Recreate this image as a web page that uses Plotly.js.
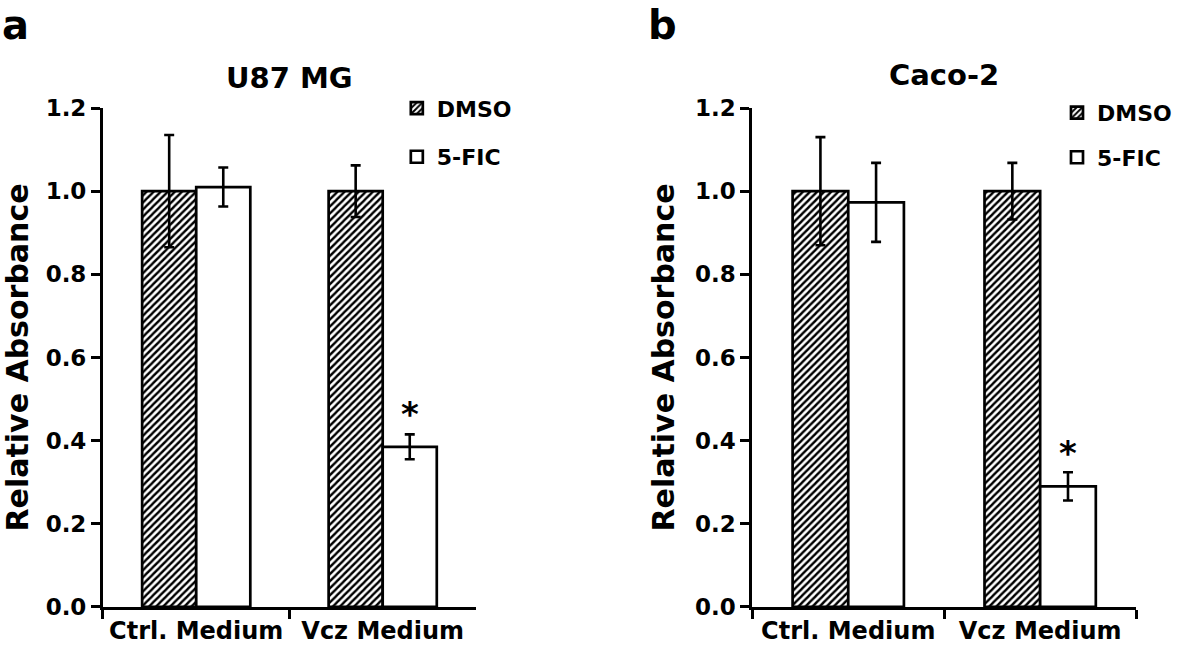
<!DOCTYPE html>
<html>
<head>
<meta charset="utf-8">
<script src="https://cdn.plot.ly/plotly-3.0.1.min.js"></script>
<style>html,body{margin:0;padding:0;background:#fff;}#chart{width:1181px;height:647px;}</style>
</head>
<body>
<div id="chart"></div>
<script>
// ---- data ----
const categories = ["Ctrl. Medium", "Vcz Medium"];
const seriesNames = ["DMSO", "5-FIC"];
const panelTitles = ["U87 MG", "Caco-2"];
const panelLetters = ["a", "b"];

const u87Dmso = [1.0, 1.0];
const u87DmsoErr = [0.135, 0.062];
const u87Fic = [1.01, 0.385];
const u87FicErr = [0.047, 0.030];

const cacoDmso = [1.0, 1.0];
const cacoDmsoErr = [0.130, 0.068];
const cacoFic = [0.973, 0.29];
const cacoFicErr = [0.095, 0.034];

const yTicks = [0, 0.2, 0.4, 0.6, 0.8, 1.0, 1.2];
const yTickText = ["0.0", "0.2", "0.4", "0.6", "0.8", "1.0", "1.2"];
const yLabel = "Relative Absorbance";
const sigMark = "*";

// ---- styling ----
const FONT = "DejaVu Sans, Liberation Sans, Arial, sans-serif";
const bold = (size) => ({family: FONT, size: size, color: "#000", weight: "bold"});

function barTrace(name, y, err, hatched, xa, ya, legend) {
  return {
    type: "bar", name: name, x: categories, y: y,
    xaxis: xa, yaxis: ya, legend: legend, legendgroup: legend + name,
    marker: {
      color: "#fff",
      line: {color: "#000", width: 2.7},
      pattern: hatched ? {shape: "/", fgcolor: "#000", bgcolor: "#fff", size: 5, solidity: 0.47} : {shape: ""}
    },
    error_y: {type: "data", array: err, visible: true, color: "#000", thickness: 2.6, width: 5},
    hoverinfo: "skip"
  };
}

const data = [
  barTrace(seriesNames[0], u87Dmso, u87DmsoErr, true, "x", "y", "legend"),
  barTrace(seriesNames[1], u87Fic, u87FicErr, false, "x", "y", "legend"),
  barTrace(seriesNames[0], cacoDmso, cacoDmsoErr, true, "x2", "y2", "legend2"),
  barTrace(seriesNames[1], cacoFic, cacoFicErr, false, "x2", "y2", "legend2")
];

function xAxis(domain, anchor) {
  return {
    domain: domain, anchor: anchor, type: "category",
    showline: true, linecolor: "#000", linewidth: 3,
    ticks: "outside", tickson: "boundaries", ticklen: 9, tickwidth: 3, tickcolor: "#000",
    tickfont: bold(24), showgrid: false, zeroline: false, fixedrange: true
  };
}
function yAxis(anchor) {
  return {
    domain: [0.062, 0.833], anchor: anchor, range: [0, 1.2],
    tickvals: yTicks, ticktext: yTickText,
    showline: true, linecolor: "#000", linewidth: 3,
    ticks: "outside", ticklen: 9, tickwidth: 3, tickcolor: "#000",
    tickfont: bold(23), showgrid: false, zeroline: false, fixedrange: true,
    title: {text: yLabel, font: bold(30), standoff: 12}
  };
}

const legendBase = {
  orientation: "v", yanchor: "top", xanchor: "left",
  bgcolor: "rgba(0,0,0,0)", font: bold(22), itemwidth: 30
};

const layout = {
  width: 1181, height: 647,
  margin: {l: 0, r: 0, t: 0, b: 0},
  paper_bgcolor: "#fff", plot_bgcolor: "#fff",
  barmode: "group", bargap: 0.42, bargroupgap: 0,
  showlegend: true,
  xaxis: xAxis([0.0872, 0.403], "y"),
  yaxis: yAxis("x"),
  xaxis2: xAxis([0.637, 0.962], "y2"),
  yaxis2: yAxis("x2"),
  legend: Object.assign({}, legendBase, {x: 0.336, y: 0.865, tracegroupgap: 17}),
  legend2: Object.assign({}, legendBase, {x: 0.895, y: 0.858, tracegroupgap: 13}),
  annotations: [
    {xref: "paper", yref: "paper", x: 0.0, y: 1.0, xanchor: "left", yanchor: "top",
     text: panelLetters[0], showarrow: false, font: bold(40)},
    {xref: "paper", yref: "paper", x: 0.547, y: 1.0, xanchor: "left", yanchor: "top",
     text: panelLetters[1], showarrow: false, font: bold(40)},
    {xref: "x domain", yref: "paper", x: 0.5, y: 0.88, xanchor: "center", yanchor: "middle",
     text: panelTitles[0], showarrow: false, font: bold(29)},
    {xref: "x2 domain", yref: "paper", x: 0.5, y: 0.884, xanchor: "center", yanchor: "middle",
     text: panelTitles[1], showarrow: false, font: bold(29)},
    {xref: "x", yref: "y", x: categories[1], y: u87Fic[1] + u87FicErr[1], xshift: 27, yshift: -2,
     xanchor: "center", yanchor: "bottom", text: sigMark, showarrow: false, font: bold(34)},
    {xref: "x2", yref: "y2", x: categories[1], y: cacoFic[1] + cacoFicErr[1], xshift: 28, yshift: -3,
     xanchor: "center", yanchor: "bottom", text: sigMark, showarrow: false, font: bold(34)}
  ]
};

Plotly.newPlot("chart", data, layout, {staticPlot: true, displayModeBar: false});
</script>
</body>
</html>
